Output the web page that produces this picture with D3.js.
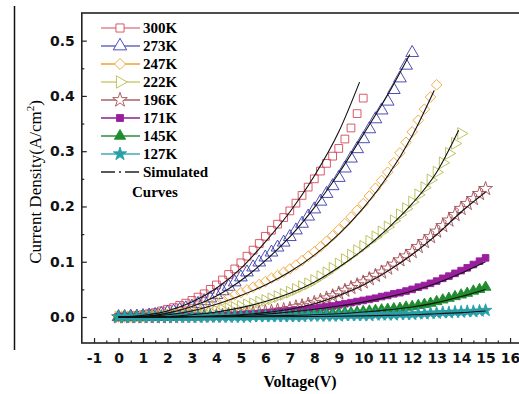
<!DOCTYPE html>
<html>
<head>
<meta charset="utf-8">
<script src="https://cdn.jsdelivr.net/npm/d3@7"></script>
<style>
  body { margin: 0; background: #fff; }
  svg { display: block; }
</style>
</head>
<body>
<svg id="chart" width="519" height="394"></svg>
<script>
// Measured current density (A/cm2), one value every 0.25 V starting at 0 V
const temps = ['300K', '273K', '247K', '222K', '196K', '171K', '145K', '127K'];
const stepV = 0.25;

const j300 = [0,0.001,0.002,0.003,0.004, 0.006,0.008,0.011,0.014, 0.017,0.021,0.025,0.030,
  0.036,0.042,0.050,0.058, 0.067,0.077,0.087,0.098, 0.110,0.121,0.133,0.146, 0.157,0.168,0.180,0.192,
  0.206,0.220,0.235,0.250, 0.264,0.278,0.291,0.305, 0.322,0.342,0.368,0.396];
const j273 = [0,0,0.001,0.001,0.002, 0.003,0.004,0.006,0.008, 0.010,0.013,0.016,0.019,
  0.024,0.029,0.034,0.040, 0.047,0.055,0.063,0.072, 0.081,0.090,0.099,0.108, 0.117,0.126,0.135,0.145,
  0.157,0.169,0.182,0.195, 0.209,0.223,0.237,0.252, 0.269,0.287,0.304,0.322, 0.340,0.358,0.374,0.390,
  0.411,0.432,0.455,0.478];
const j247 = [0,0,0,0.001,0.001, 0.002,0.003,0.004,0.005, 0.007,0.009,0.011,0.013,
  0.016,0.019,0.023,0.027, 0.031,0.035,0.040,0.044, 0.049,0.054,0.059,0.064, 0.070,0.075,0.081,0.087,
  0.094,0.102,0.110,0.118, 0.127,0.137,0.147,0.158, 0.169,0.181,0.193,0.205, 0.219,0.233,0.247,0.262,
  0.279,0.297,0.316,0.335, 0.356,0.376,0.398,0.420];
const j222 = [0,0,0,0,0, 0.001,0.001,0.002,0.002, 0.003,0.003,0.004,0.005,
  0.006,0.008,0.009,0.011, 0.013,0.015,0.017,0.019, 0.022,0.024,0.027,0.030, 0.033,0.037,0.041,0.045,
  0.050,0.055,0.060,0.066, 0.073,0.080,0.088,0.096, 0.104,0.112,0.120,0.128, 0.137,0.145,0.154,0.163,
  0.174,0.185,0.196,0.208, 0.221,0.234,0.248,0.262, 0.279,0.296,0.314,0.332];
const j196 = [0,0,0,0,0, 0,0,0,0, 0,0.001,0.001,0.001,
  0.001,0.002,0.002,0.002, 0.003,0.004,0.004,0.005, 0.006,0.007,0.008,0.009, 0.010,0.012,0.013,0.015,
  0.018,0.020,0.023,0.026, 0.030,0.034,0.038,0.043, 0.048,0.053,0.058,0.063, 0.069,0.075,0.081,0.088,
  0.095,0.103,0.110,0.118, 0.127,0.136,0.145,0.155, 0.165,0.175,0.185,0.196, 0.205,0.214,0.223,0.232];
const j171 = [0,0,0,0,0, 0,0,0,0, 0,0.001,0.001,0.001,
  0.001,0.001,0.001,0.002, 0.002,0.003,0.003,0.004, 0.005,0.005,0.006,0.007, 0.008,0.009,0.010,0.011,
  0.012,0.013,0.015,0.016, 0.017,0.019,0.020,0.022, 0.024,0.026,0.028,0.030, 0.032,0.034,0.037,0.039,
  0.042,0.044,0.047,0.050, 0.054,0.057,0.061,0.065, 0.070,0.074,0.079,0.084, 0.089,0.095,0.101,0.107];
const j145 = [0,0,0,0,0, 0,0,0,0, 0,0,0,0,
  0,0.001,0.001,0.001, 0.001,0.001,0.001,0.001, 0.001,0.002,0.002,0.002, 0.002,0.003,0.003,0.003,
  0.004,0.004,0.005,0.005, 0.006,0.006,0.007,0.007, 0.008,0.008,0.009,0.010, 0.011,0.012,0.013,0.014,
  0.015,0.016,0.018,0.019, 0.021,0.023,0.025,0.028, 0.031,0.034,0.037,0.040, 0.043,0.047,0.050,0.054];
const j127 = [0,0,0,0,0, 0,0,0,0, 0,0,0,0,
  0,0,0,0, 0,0,0,0, 0,0.001,0.001,0.001, 0.001,0.001,0.001,0.001,
  0.001,0.001,0.002,0.002, 0.002,0.002,0.002,0.002, 0.003,0.003,0.003,0.003, 0.003,0.004,0.004,0.004,
  0.004,0.005,0.005,0.005, 0.006,0.006,0.007,0.007, 0.008,0.008,0.009,0.009, 0.010,0.010,0.011,0.012];

// Simulated curves, [voltage, current density]
const sim300 = [[0,0],[1,0.003],[2,0.011],[3,0.027],[4,0.052],[5,0.088],[6,0.136],[7,0.19],[8,0.255],[9,0.335],[9.85,0.425]];
const sim273 = [[0,0],[1,0.001],[2,0.007],[3,0.019],[4,0.038],[5,0.066],[6,0.102],[7,0.145],[8,0.198],[9,0.26],[10,0.33],[11,0.402],[11.9,0.475]];
const sim247 = [[0,0],[1,0.001],[2,0.004],[3,0.011],[4,0.023],[5,0.039],[6,0.058],[7,0.082],[8,0.112],[9,0.15],[10,0.197],[11,0.255],[12,0.328],[12.9,0.41]];
const sim222 = [[0,0],[1,0],[2,0.001],[3,0.004],[4,0.009],[5,0.017],[6,0.028],[7,0.043],[8,0.063],[9,0.09],[10,0.122],[11,0.16],[12,0.205],[13,0.262],[13.9,0.338]];
const sim196 = [[0,0],[2,0],[3,0.001],[4,0.002],[5,0.004],[6,0.008],[7,0.014],[8,0.024],[9,0.039],[10,0.058],[11,0.083],[12,0.113],[13,0.149],[14,0.19],[15,0.226]];
const sim171 = [[0,0],[2,0],[3,0.001],[4,0.001],[5,0.003],[6,0.005],[7,0.009],[8,0.014],[9,0.02],[10,0.027],[11,0.036],[12,0.047],[13,0.061],[14,0.079],[15,0.1]];
const sim145 = [[0,0],[5,0.001],[6,0.002],[7,0.003],[8,0.004],[9,0.006],[10,0.009],[11,0.013],[12,0.018],[13,0.026],[14,0.037],[15,0.05]];
const sim127 = [[0,0],[8,0.001],[10,0.002],[11,0.003],[12,0.004],[13,0.006],[14,0.008],[15,0.011]];

const xTicks = d3.range(-1, 17, 1);
const yTicks = [0, 0.1, 0.2, 0.3, 0.4, 0.5];

const measured = [j300, j273, j247, j222, j196, j171, j145, j127];
const simulated = [sim300, sim273, sim247, sim222, sim196, sim171, sim145, sim127];

// marker styles per temperature
const markerColor = ['#d4485a', '#3a3aae', '#f0a83c', '#b9bd52', '#a44e55', '#9a1f9e', '#1f8c2e', '#2a9fa8'];
const legendLine  = ['#e08590', '#6a6ab8', '#f0a030', '#cccc78', '#a86068', '#8a2090', '#2e8c3c', '#44aab2'];
const markerType  = [d3.symbolSquare, d3.symbolTriangle, d3.symbolSquare, d3.symbolTriangle,
                     d3.symbolStar, d3.symbolSquare, d3.symbolTriangle, d3.symbolStar];
const markerRot   = [0, 0, 45, 90, 0, 0, 0, 0];
const markerSize  = [60, 70, 56, 60, 60, 44, 50, 50];
const markerFill  = [false, false, false, false, false, true, true, true];

const svg = d3.select('#chart');
const x = d3.scaleLinear().domain([-1.5, 16.5]).range([81.8, 522.3]);
const y = d3.scaleLinear().domain([-0.047, 0.55]).range([343, 13]);

// stray rule on the far left of the figure
svg.append('line')
  .attr('x1', 14.5).attr('x2', 14.5).attr('y1', 6).attr('y2', 350)
  .attr('stroke', '#111').attr('stroke-width', 1.5);

const plot = svg.append('g');

measured.forEach((vals, i) => {
  const sym = d3.symbol().type(markerType[i]).size(markerSize[i]);
  plot.append('g').selectAll('path')
    .data(vals)
    .enter()
    .append('path')
    .attr('d', sym)
    .attr('transform', (d, k) => `translate(${x(k * stepV)},${y(d)}) rotate(${markerRot[i]})`)
    .attr('fill', markerFill[i] ? markerColor[i] : 'none')
    .attr('stroke', markerColor[i])
    .attr('stroke-width', 0.9);
});

const simLine = d3.line()
  .x(d => x(d[0]))
  .y(d => y(d[1]))
  .curve(d3.curveMonotoneX);

simulated.forEach(s => {
  plot.append('path')
    .attr('d', simLine(s))
    .attr('fill', 'none')
    .attr('stroke', '#111')
    .attr('stroke-width', 1.1);
});

// frame
svg.append('rect')
  .attr('x', 81.8).attr('y', 13).attr('width', 460).attr('height', 330)
  .attr('fill', 'none').attr('stroke', '#222').attr('stroke-width', 1.6);

// axes, ticks drawn inwards
const xAxis = svg.append('g')
  .attr('transform', 'translate(0,343)')
  .call(d3.axisBottom(x).tickValues(xTicks).tickSize(-5).tickPadding(10).tickFormat(d3.format('d')));
svg.append('g')
  .attr('transform', 'translate(0,343)')
  .call(d3.axisBottom(x).tickValues(d3.range(-0.5, 16.5, 1)).tickSize(-2.5).tickFormat(''));

const yAxis = svg.append('g')
  .attr('transform', 'translate(81.8,0)')
  .call(d3.axisLeft(y).tickValues(yTicks).tickSize(-5).tickPadding(7).tickFormat(d3.format('.1f')));
svg.append('g')
  .attr('transform', 'translate(81.8,0)')
  .call(d3.axisLeft(y).tickValues([0.05, 0.15, 0.25, 0.35, 0.45]).tickSize(-2.5).tickFormat(''));

svg.selectAll('.domain').remove();
svg.selectAll('.tick line').attr('stroke', '#222').attr('stroke-width', 1.2);
svg.selectAll('.tick text')
  .attr('font-family', '"DejaVu Sans", sans-serif')
  .attr('font-weight', 'bold')
  .attr('font-size', 14)
  .attr('fill', '#111');
xAxis.selectAll('.tick text').text(d => d < 0 ? '-' + Math.abs(d) : d);

// axis titles
svg.append('text')
  .attr('x', 300).attr('y', 387)
  .attr('text-anchor', 'middle')
  .attr('font-family', '"Liberation Serif", serif')
  .attr('font-weight', 'bold')
  .attr('font-size', 16)
  .text('Voltage(V)');

const yTitle = svg.append('text')
  .attr('transform', 'translate(41,182) rotate(-90)')
  .attr('text-anchor', 'middle')
  .attr('font-family', '"Liberation Serif", serif')
  .attr('font-size', 17);
yTitle.append('tspan').text('Current Density(A/cm');
yTitle.append('tspan').attr('font-size', 11).attr('dy', -7).text('2');
yTitle.append('tspan').attr('dy', 7).text(')');

// legend
const legend = svg.append('g');
const rowY = d3.scaleLinear().domain([0, 1]).range([28, 46]);
temps.forEach((t, i) => {
  const ly = rowY(i);
  legend.append('line')
    .attr('x1', 101).attr('x2', 140).attr('y1', ly).attr('y2', ly)
    .attr('stroke', legendLine[i]).attr('stroke-width', 1.3);
  legend.append('path')
    .attr('d', d3.symbol().type(markerType[i]).size(markerSize[i] * 1.1)())
    .attr('transform', `translate(120,${ly}) rotate(${markerRot[i]})`)
    .attr('fill', markerFill[i] ? markerColor[i] : '#fff')
    .attr('stroke', markerColor[i])
    .attr('stroke-width', 0.9);
  legend.append('text')
    .attr('x', 143).attr('y', ly + 5)
    .attr('font-family', '"Liberation Serif", serif')
    .attr('font-weight', 'bold')
    .attr('font-size', 15)
    .text(t);
});
const simY = rowY(8);
legend.append('line')
  .attr('x1', 101).attr('x2', 140).attr('y1', simY).attr('y2', simY)
  .attr('stroke', '#222').attr('stroke-width', 1.5)
  .attr('stroke-dasharray', '14,4,2,4');
legend.append('text')
  .attr('x', 143).attr('y', simY + 5)
  .attr('font-family', '"Liberation Serif", serif')
  .attr('font-weight', 'bold')
  .attr('font-size', 15)
  .text('Simulated');
legend.append('text')
  .attr('x', 132).attr('y', simY + 25)
  .attr('font-family', '"Liberation Serif", serif')
  .attr('font-weight', 'bold')
  .attr('font-size', 15)
  .text('Curves');
</script>
</body>
</html>
